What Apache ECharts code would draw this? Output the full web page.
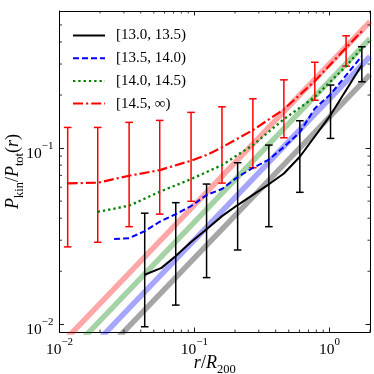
<!DOCTYPE html>
<html>
<head>
<meta charset="utf-8">
<script src="https://cdn.jsdelivr.net/npm/echarts@6.0.0/dist/echarts.min.js"></script>
<style>
  html, body { margin: 0; padding: 0; background: #fff; }
  #chart { width: 374px; height: 374px; }
</style>
</head>
<body>
<div id="chart"></div>
<script>
// ---- data ----
const binNames = ['[13.0, 13.5)', '[13.5, 14.0)', '[14.0, 14.5)', '[14.5, \u221E)'];

// [13.0, 13.5) black solid
const blackR = [0.0428, 0.057, 0.0727, 0.0944, 0.123, 0.160, 0.209, 0.271, 0.356, 0.460, 0.604, 1.02, 1.74];
const blackP = [0.0191, 0.0209, 0.0244, 0.0293, 0.0346, 0.0411, 0.0475, 0.0543, 0.0623, 0.0718, 0.0893, 0.154, 0.296];
const blackErrR = [0.0428, 0.0727, 0.123, 0.209, 0.356, 0.604, 1.02, 1.74];
const blackErrLo = [0.00968, 0.01285, 0.0184, 0.0264, 0.0358, 0.0561, 0.1135, 0.238];
const blackErrHi = [0.0427, 0.0490, 0.0625, 0.0826, 0.104, 0.143, 0.228, 0.376];

// [13.5, 14.0) blue dashed
const blueR = [0.0254, 0.0328, 0.0428, 0.0553, 0.0727, 0.0944, 0.123, 0.160, 0.209, 0.271, 0.356, 0.460, 0.604, 0.780, 1.02, 1.74];
const blueP = [0.0305, 0.0308, 0.0338, 0.0382, 0.0422, 0.0469, 0.0542, 0.0586, 0.0686, 0.0771, 0.0861, 0.1014, 0.123, 0.168, 0.202, 0.333];

// [14.0, 14.5) green dotted
const greenR = [0.0192, 0.0328, 0.0553, 0.0944, 0.160, 0.271, 0.460, 0.780, 1.33, 1.74];
const greenP = [0.0435, 0.0471, 0.0565, 0.0667, 0.0801, 0.104, 0.146, 0.195, 0.292, 0.369];

// [14.5, inf) red dash-dot
const redR = [0.0115, 0.0192, 0.0328, 0.0553, 0.0944, 0.1227, 0.160, 0.271, 0.460, 0.780, 1.33, 1.74];
const redP = [0.0631, 0.0636, 0.0697, 0.0750, 0.0848, 0.0913, 0.101, 0.1265, 0.166, 0.240, 0.371, 0.46];
const redErrR = [0.0115, 0.0192, 0.0328, 0.0553, 0.0944, 0.160, 0.271, 0.460, 0.780, 1.33];
const redErrLo = [0.0275, 0.0292, 0.0358, 0.0422, 0.0499, 0.0633, 0.0773, 0.1144, 0.187, 0.292];
const redErrHi = [0.131, 0.131, 0.140, 0.1436, 0.1595, 0.1715, 0.1905, 0.244, 0.307, 0.434];

// faint power-law guide lines, end points at r = 0.01 and r = 2
const guideR = [0.01, 2];
const guideRed = [0.00754, 0.522];
const guideGreen = [0.00603, 0.418];
const guideBlue = [0.00477, 0.331];
const guideGray = [0.00377, 0.261];

// axis ranges and minor tick values
const xMin = 0.01, xMax = 2;
const yMin = 0.00904, yMax = 0.6;
const xMinorTicks = [0.02, 0.03, 0.04, 0.05, 0.06, 0.07, 0.08, 0.09, 0.2, 0.3, 0.4, 0.5, 0.6, 0.7, 0.8, 0.9, 2];
const yMinorTicks = [0.02, 0.03, 0.04, 0.05, 0.06, 0.07, 0.08, 0.09, 0.2, 0.3, 0.4, 0.5];

// ---- helpers ----
const FONT = '"Liberation Serif", "DejaVu Serif", serif';
const zip = (xs, ys) => xs.map((x, i) => [x, ys[i]]);
const zip3 = (xs, a, b) => xs.map((x, i) => [x, a[i], b[i]]);

const powLabel = v => {
	const e = Math.round(Math.log10(v));
	return '{b|10}{s|' + (e < 0 ? '\u2212' + (-e) : e) + '}';
};
const powRich = {
	b: { fontFamily: FONT, fontSize: 15.5, lineHeight: 15, color: '#000', verticalAlign: 'top', padding: [5, 0, 0, 0] },
	s: { fontFamily: FONT, fontSize: 11, lineHeight: 11, color: '#000', verticalAlign: 'top' }
};
const nameRich = {
	i: { fontFamily: FONT, fontStyle: 'italic', fontSize: 18, lineHeight: 18, color: '#000', verticalAlign: 'top', padding: [0, 0, 6, 0] },
	n: { fontFamily: FONT, fontSize: 18, lineHeight: 18, color: '#000', verticalAlign: 'top', padding: [0, 0, 6, 0] },
	sub: { fontFamily: FONT, fontSize: 12.5, lineHeight: 12, color: '#000', verticalAlign: 'top', padding: [9, 0, 0, 0] }
};

const guide = (name, data, color) => ({
	name: name,
	type: 'line',
	data: data,
	symbol: 'none',
	silent: true,
	z: 1,
	lineStyle: { color: color, width: 5.5, opacity: 0.35, cap: 'butt' }
});

const curve = (name, data, color, width, dash) => ({
	name: name,
	type: 'line',
	data: data,
	symbol: 'none',
	showSymbol: false,
	z: 4,
	itemStyle: { color: color },
	lineStyle: { color: color, width: width, type: dash, cap: 'butt' }
});

const errorBars = (data, color) => ({
	type: 'custom',
	data: data,
	z: 3,
	silent: true,
	encode: { x: 0, y: [1, 2] },
	renderItem: (params, api) => {
		const lo = api.coord([api.value(0), api.value(1)]);
		const hi = api.coord([api.value(0), api.value(2)]);
		const cap = 3.8;
		const style = { stroke: color, lineWidth: 1.5 };
		return {
			type: 'group',
			children: [
				{ type: 'line', shape: { x1: lo[0], y1: lo[1], x2: hi[0], y2: hi[1] }, style: style },
				{ type: 'line', shape: { x1: lo[0] - cap, y1: lo[1], x2: lo[0] + cap, y2: lo[1] }, style: style },
				{ type: 'line', shape: { x1: hi[0] - cap, y1: hi[1], x2: hi[0] + cap, y2: hi[1] }, style: style }
			]
		};
	}
});

// minor ticks on all four sides of the frame, placed through the log axes
const minorTicks = (data, horizontal) => ({
	type: 'custom',
	data: data,
	silent: true,
	z: 10,
	encode: { x: 0, y: 1 },
	renderItem: (params, api) => {
		const cs = params.coordSys;
		const p = api.coord([api.value(0), api.value(1)]);
		const len = 2.5;
		const style = { stroke: '#000', lineWidth: 0.8 };
		if (horizontal) {
			return {
				type: 'group',
				children: [
					{ type: 'line', shape: { x1: p[0], y1: cs.y + cs.height, x2: p[0], y2: cs.y + cs.height - len }, style: style },
					{ type: 'line', shape: { x1: p[0], y1: cs.y, x2: p[0], y2: cs.y + len }, style: style }
				]
			};
		}
		return {
			type: 'group',
			children: [
				{ type: 'line', shape: { x1: cs.x, y1: p[1], x2: cs.x + len, y2: p[1] }, style: style },
				{ type: 'line', shape: { x1: cs.x + cs.width, y1: p[1], x2: cs.x + cs.width - len, y2: p[1] }, style: style }
			]
		};
	}
});

const frameAxis = {
	type: 'log',
	logBase: 10,
	axisLine: { show: true, onZero: false, lineStyle: { color: '#000', width: 1 } },
	axisTick: { show: true, inside: true, length: 4.5, lineStyle: { color: '#000', width: 0.9 } },
	splitLine: { show: false },
	minorTick: { show: false }
};

const chart = echarts.init(document.getElementById('chart'), null, { renderer: 'canvas' });

chart.setOption({
	animation: false,
	backgroundColor: '#fff',
	grid: { left: 59.5, right: 4, top: 11, bottom: 42, containLabel: false, outerBoundsMode: 'none' },
	legend: {
		data: binNames,
		orient: 'vertical',
		left: 67,
		top: 23,
		itemWidth: 32,
		itemHeight: 12,
		itemGap: 7.7,
		selectedMode: false,
		itemStyle: { opacity: 0 },
		textStyle: { fontFamily: FONT, fontSize: 15, color: '#000', padding: [0, 0, 0, 6] }
	},
	xAxis: [
		Object.assign({}, frameAxis, {
			position: 'bottom',
			min: xMin,
			max: xMax,
			axisLabel: { show: true, margin: 5, formatter: powLabel, rich: powRich, showMaxLabel: false },
			name: '{i|r}{n|/}{i|R}{sub|200}',
			nameLocation: 'middle',
			nameGap: 22,
			nameMoveOverlap: false,
			nameTextStyle: { rich: nameRich }
		}),
		Object.assign({}, frameAxis, {
			position: 'top',
			min: xMin,
			max: xMax,
			axisLabel: { show: false }
		})
	],
	yAxis: [
		Object.assign({}, frameAxis, {
			position: 'left',
			min: yMin,
			max: yMax,
			axisLabel: { show: true, margin: 6, formatter: powLabel, rich: powRich, showMinLabel: false, showMaxLabel: false },
			name: '{i|P}{sub|kin}{n|/}{i|P}{sub|tot}{n|(}{i|r}{n|)}',
			nameLocation: 'middle',
			nameRotate: 90,
			nameGap: 37,
			nameMoveOverlap: false,
			nameTextStyle: { rich: nameRich }
		}),
		Object.assign({}, frameAxis, {
			position: 'right',
			min: yMin,
			max: yMax,
			axisLabel: { show: false }
		})
	],
	series: [
		guide('guide red', zip(guideR, guideRed), '#ff0000'),
		guide('guide green', zip(guideR, guideGreen), '#008000'),
		guide('guide blue', zip(guideR, guideBlue), '#0000ff'),
		guide('guide gray', zip(guideR, guideGray), '#000000'),
		errorBars(zip3(redErrR, redErrLo, redErrHi), '#ff0000'),
		errorBars(zip3(blackErrR, blackErrLo, blackErrHi), '#000000'),
		curve(binNames[0], zip(blackR, blackP), '#000000', 2, 'solid'),
		curve(binNames[1], zip(blueR, blueP), '#0000ff', 2, [6, 3]),
		curve(binNames[2], zip(greenR, greenP), '#008000', 2.3, [2.3, 3]),
		curve(binNames[3], zip(redR, redP), '#ff0000', 2.2, [10, 3, 2.2, 3]),
		minorTicks(xMinorTicks.map(v => [v, yMin]), true),
		minorTicks(yMinorTicks.map(v => [xMin, v]), false)
	]
});
</script>
</body>
</html>
